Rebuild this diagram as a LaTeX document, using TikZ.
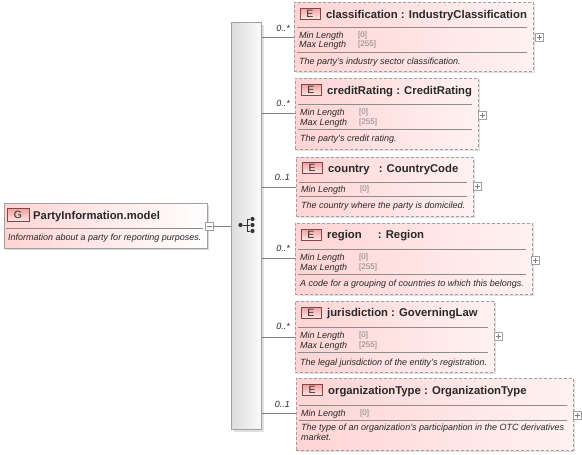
\documentclass[tikz,border=0pt]{standalone}
\usepackage{fontspec}
\setmainfont{Liberation Sans}
\usetikzlibrary{shadows}
\definecolor{pinkA}{RGB}{255,212,212}
\definecolor{pinkB}{RGB}{255,242,242}
\definecolor{badgeA}{RGB}{242,160,160}
\definecolor{badgeB}{RGB}{255,232,232}
\definecolor{badgeD}{RGB}{130,70,70}
\definecolor{boxline}{RGB}{160,160,160}
\definecolor{sepline}{RGB}{140,140,140}
\definecolor{valgray}{RGB}{130,130,130}
\definecolor{txt}{RGB}{40,40,40}
\definecolor{barA}{RGB}{220,220,220}
\definecolor{barB}{RGB}{250,250,250}
\newcommand{\ttlfont}{\fontsize{11.3}{13}\selectfont\bfseries}
\newcommand{\smfont}{\fontsize{9}{10}\selectfont\itshape}
\begin{document}
\begin{tikzpicture}[x=1pt,y=-1pt,
  elbox/.style={draw=boxline, dash pattern=on 3pt off 2pt, line width=0.7pt,
    left color=pinkA, right color=pinkB, anchor=north west, inner sep=0pt,
    drop shadow={shadow xshift=2pt, shadow yshift=-2pt, fill=black!12, opacity=1}},
  rootbox/.style={draw=boxline, line width=0.8pt, left color=pinkA, right color=white,
    anchor=north west, inner sep=0pt,
    drop shadow={shadow xshift=2pt, shadow yshift=-2pt, fill=black!15, opacity=1}},
  barbox/.style={draw=boxline, line width=0.8pt, left color=barA, right color=barB,
    anchor=north west, inner sep=0pt,
    drop shadow={shadow xshift=3pt, shadow yshift=-3pt, fill=black!12, opacity=1}},
  badge/.style={draw=badgeD, line width=0.6pt, top color=badgeA, bottom color=badgeB,
    minimum width=20pt, minimum height=11pt, inner sep=0pt, text=txt,
    font=\fontsize{10.5}{12}\selectfont},
  ttl/.style={anchor=base west, inner sep=0pt, text=txt, font=\ttlfont},
  sm/.style={anchor=base west, inner sep=0pt, text=txt, font=\smfont},
  val/.style={anchor=base west, inner sep=0pt, text=valgray, font=\fontsize{8}{9}\selectfont},
  mult/.style={anchor=base east, inner sep=0pt, text=txt, font=\smfont},
  sep/.style={draw=sepline, line width=0.6pt},
  conn/.style={draw=gray, line width=0.6pt},
  pm/.style={draw=boxline, fill=white, minimum size=8pt, inner sep=0pt, line width=0.6pt},
  dot/.style={circle, fill=black!80, inner sep=0pt, minimum size=4.2pt}
]
\useasboundingbox (0,0) rectangle (582,455);

% ---------- root ----------
\node[rootbox, minimum width=203pt, minimum height=45pt] (root) at (4,203) {};
\node[badge, minimum width=22pt, minimum height=13pt] (rg) at (18,215) {G};
\node[ttl] (rt) at (33,219) {PartyInformation.model};
\draw[sep] (6,228) -- (203,228);
\node[sm] (rd) at (8,240.5) {Information about a party for reporting purposes.};
\node[pm] (rm) at (209,226) {};
\draw[line width=0.7pt,gray] (rm.center) ++(-2.5,0) -- ++(5,0);

% ---------- sequence bar ----------
\node[barbox, minimum width=30pt, minimum height=407pt] (bar) at (231,22) {};
\draw[conn] (rm.east) -- (rm.east -| bar.west);
\node[dot] (i0) at (240.5,225) {};
\node[dot] (i1) at (252.5,219) {};
\node[dot] (i2) at (252.5,225) {};
\node[dot] (i3) at (252.5,231) {};
\draw[line width=0.8pt,black!80] (i0) -- (247,225) (247,219) -- (247,231)
  (247,219) -- (i1) (247,225) -- (i2) (247,231) -- (i3);

% ---------- element 1 ----------
\node[elbox, minimum width=239pt, minimum height=69pt] (b1) at (294,2) {};
\node[badge] (e1) at (310,13.5) {E};
\node[ttl] (t1) at (326,18) {classification : IndustryClassification};
\draw[sep] (297,27) -- (527,27);
\node[sm] (m1) at (299,38) {Min Length};
\node[val] (v1) at (358,37.5) {[0]};
\node[sm] (x1) at (299,47) {Max Length};
\node[val] (w1) at (358,46.5) {[255]};
\draw[sep] (297,52) -- (527,52);
\node[sm] (d1) at (299,64) {The party's industry sector classification.};
\coordinate (c1) at (294,37);
\draw[conn] (bar.east |- c1) -- (c1);
\node[mult] at (290,31) {0..*};
\node[pm] (p1) at (539,37.5) {};

% ---------- element 2 ----------
\node[elbox, minimum width=183pt, minimum height=71pt] (b2) at (295,78) {};
\node[badge] (e2) at (311,90) {E};
\node[ttl] (t2) at (327,94) {creditRating : CreditRating};
\draw[sep] (298,104) -- (472,104);
\node[sm] (m2) at (300,115) {Min Length};
\node[val] (v2) at (359,114.5) {[0]};
\node[sm] (x2) at (300,125) {Max Length};
\node[val] (w2) at (359,124.5) {[255]};
\draw[sep] (298,129) -- (472,129);
\node[sm] (d2) at (300,141) {The party's credit rating.};
\coordinate (c2) at (295,113);
\draw[conn] (bar.east |- c2) -- (c2);
\node[mult] at (290,106) {0..*};
\node[pm] (p2) at (482,115) {};

% ---------- element 3 ----------
\node[elbox, minimum width=177pt, minimum height=59pt] (b3) at (296,157) {};
\node[badge] (e3) at (312,168) {E};
\node[ttl] (t3) at (328,172) {country\hspace{6pt} : CountryCode};
\draw[sep] (299,182) -- (467,182);
\node[sm] (m3) at (301,192) {Min Length};
\node[val] (v3) at (360,191.5) {[0]};
\draw[sep] (299,196) -- (467,196);
\node[sm] (d3) at (301,208) {The country where the party is domiciled.};
\coordinate (c3) at (296,187);
\draw[conn] (bar.east |- c3) -- (c3);
\node[mult] at (290,180) {0..1};
\node[pm] (p3) at (477,186) {};

% ---------- element 4 ----------
\node[elbox, minimum width=237pt, minimum height=71pt] (b4) at (295,223) {};
\node[badge] (e4) at (311,234.5) {E};
\node[ttl] (t4) at (327,238.5) {region\hspace{13pt} : Region};
\draw[sep] (298,249) -- (526,249);
\node[sm] (m4) at (300,260) {Min Length};
\node[val] (v4) at (359,259.5) {[0]};
\node[sm] (x4) at (300,270) {Max Length};
\node[val] (w4) at (359,269.5) {[255]};
\draw[sep] (298,274) -- (526,274);
\node[sm] (d4) at (300,286) {A code for a grouping of countries to which this belongs.};
\coordinate (c4) at (295,258);
\draw[conn] (bar.east |- c4) -- (c4);
\node[mult] at (290,251) {0..*};
\node[pm] (p4) at (535,260) {};

% ---------- element 5 ----------
\node[elbox, minimum width=199pt, minimum height=71pt] (b5) at (295,301) {};
\node[badge] (e5) at (311,312.5) {E};
\node[ttl] (t5) at (327,316.5) {jurisdiction : GoverningLaw};
\draw[sep] (298,327) -- (488,327);
\node[sm] (m5) at (300,338) {Min Length};
\node[val] (v5) at (359,337.5) {[0]};
\node[sm] (x5) at (300,348) {Max Length};
\node[val] (w5) at (359,347.5) {[255]};
\draw[sep] (298,352) -- (488,352);
\node[sm] (d5) at (300,365) {The legal jurisdiction of the entity's registration.};
\coordinate (c5) at (295,337);
\draw[conn] (bar.east |- c5) -- (c5);
\node[mult] at (290,329) {0..*};
\node[pm] (p5) at (498,336) {};

% ---------- element 6 ----------
\node[elbox, minimum width=277pt, minimum height=72pt] (b6) at (296,378) {};
\node[badge] (e6) at (312,390) {E};
\node[ttl] (t6) at (328,394.5) {organizationType : OrganizationType};
\draw[sep] (299,405) -- (567,405);
\node[sm] (m6) at (301,416) {Min Length};
\node[val] (v6) at (360,415.5) {[0]};
\draw[sep] (299,420) -- (567,420);
\node[sm] (d6) at (301,430) {The type of an organization's participantion in the OTC derivatives};
\node[sm] (d6b) at (301,440) {market.};
\coordinate (c6) at (296,413);
\draw[conn] (bar.east |- c6) -- (c6);
\node[mult] at (290,407) {0..1};
\node[pm] (p6) at (577,415) {};

% plus signs
\foreach \p in {p1,p2,p3,p4,p5,p6}{
  \draw[line width=0.6pt,gray] (\p.center) ++(-2.5,0) -- ++(5,0);
  \draw[line width=0.6pt,gray] (\p.center) ++(0,-2.5) -- ++(0,5);
}
\end{tikzpicture}
\end{document}
